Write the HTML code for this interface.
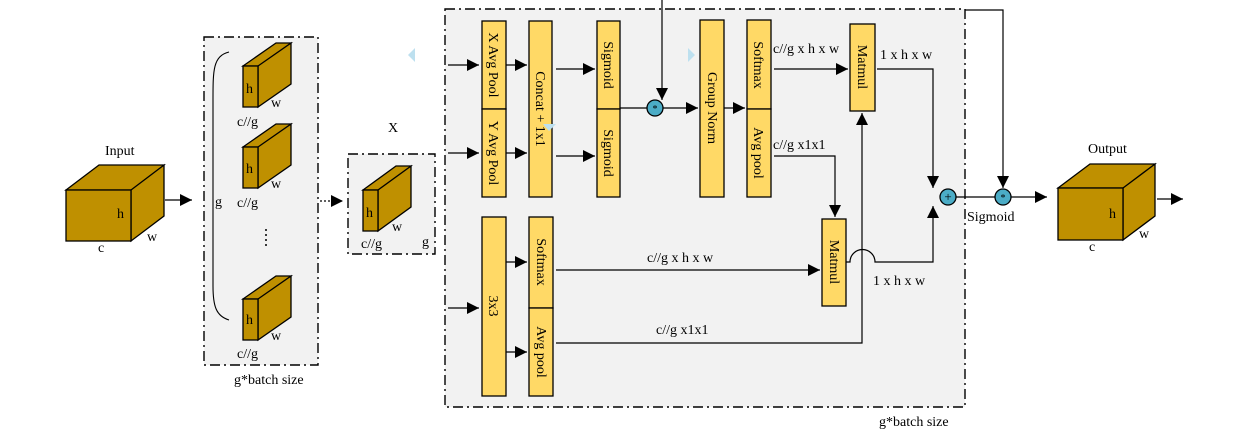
<!DOCTYPE html>
<html><head><meta charset="utf-8"><style>
html,body{margin:0;padding:0;background:#fff;}
svg{display:block;font-family:"Liberation Serif",serif;}
</style></head><body>
<svg width="1235" height="435" viewBox="0 0 1235 435" xmlns="http://www.w3.org/2000/svg">
<defs>
<marker id="b" viewBox="0 0 10 10" refX="10" refY="5" markerWidth="12" markerHeight="12" markerUnits="userSpaceOnUse" orient="auto"><path d="M0,0L10,5L0,10z" fill="#000"/></marker>
</defs>
<g stroke="#000" stroke-width="1.2" fill="none">
<rect x="445" y="9" width="520" height="398" fill="#f2f2f2" stroke-dasharray="10,4,2,4" stroke-width="1.4"/>
<rect x="204" y="37" width="114" height="328" fill="#f2f2f2" stroke-dasharray="10,4,2,4" stroke-width="1.4"/>
<rect x="348" y="154" width="87" height="100" fill="#f2f2f2" stroke-dasharray="10,4,2,4" stroke-width="1.4"/>
</g>
<g stroke="#000" stroke-width="1.3" fill="#bf9000">
<path d="M66,190L99,165L164,165L131,190z M131,190L164,165L164,216L131,241z"/><rect x="66" y="190" width="65" height="51"/>
<path d="M1058,188L1090,164L1155,164L1123,188z M1123,188L1155,164L1155,216L1123,240z"/><rect x="1058" y="188" width="65" height="52"/>
<path d="M243,66L276,43L291,43L258,66z M258,66L291,43L291,84L258,107z"/><rect x="243" y="66" width="15" height="41"/>
<path d="M243,147L276,124L291,124L258,147z M258,147L291,124L291,165L258,188z"/><rect x="243" y="147" width="15" height="41"/>
<path d="M243,299L276,276L291,276L258,299z M258,299L291,276L291,317L258,340z"/><rect x="243" y="299" width="15" height="41"/>
<path d="M363,190L396,166L411,166L378,190z M378,190L411,166L411,207L378,231z"/><rect x="363" y="190" width="15" height="41"/>
</g>
<g font-size="14" fill="#000">
<text x="105" y="155">Input</text>
<text x="117" y="218">h</text><text x="147" y="241">w</text><text x="98" y="252">c</text>
<text x="1088" y="153">Output</text>
<text x="1109" y="218">h</text><text x="1139" y="238">w</text><text x="1089" y="251">c</text>
<text x="246" y="93">h</text><text x="271" y="107">w</text><text x="237" y="126">c//g</text>
<text x="246" y="173">h</text><text x="271" y="188">w</text><text x="237" y="207">c//g</text>
<text x="246" y="324">h</text><text x="271" y="340">w</text><text x="237" y="358">c//g</text>
<text x="366" y="217">h</text><text x="392" y="231">w</text><text x="361" y="248">c//g</text><text x="422" y="246">g</text>
<text x="388" y="132">X</text>
<text x="215" y="206">g</text>
<text x="234" y="384">g*batch size</text>
<text x="879" y="426">g*batch size</text>
</g>
<g fill="#000"><circle cx="266" cy="230" r="1"/><circle cx="266" cy="235" r="1"/><circle cx="266" cy="240" r="1"/><circle cx="266" cy="245" r="1"/></g>
<path d="M229,52 C213,56 213,70 213,100 L213,286 C213,306 216,316 229,320" stroke="#000" fill="none" stroke-width="1.1"/>
<g stroke="#000" stroke-width="1.3" fill="none">
<line x1="165" y1="200" x2="192" y2="200" marker-end="url(#b)"/>
<line x1="320" y1="201" x2="343" y2="201" stroke-dasharray="2,2" marker-end="url(#b)"/>
</g>
<g stroke="#000" stroke-width="1.3" fill="#ffd966">
<rect x="482" y="21" width="24" height="88"/><rect x="482" y="109" width="24" height="88"/>
<rect x="529" y="21" width="23" height="176"/>
<rect x="597" y="21" width="23" height="88"/><rect x="597" y="109" width="23" height="88"/>
<rect x="700" y="20" width="24" height="177"/>
<rect x="747" y="20" width="24" height="89"/><rect x="747" y="109" width="24" height="88"/>
<rect x="850" y="24" width="25" height="87"/>
<rect x="482" y="217" width="24" height="179"/>
<rect x="529" y="217" width="24" height="91"/><rect x="529" y="308" width="24" height="88"/>
<rect x="822" y="219" width="24" height="87"/>
</g>
<g font-size="14" fill="#000">
<text transform="translate(489,65) rotate(90)" text-anchor="middle">X Avg Pool</text>
<text transform="translate(489,153) rotate(90)" text-anchor="middle">Y Avg Pool</text>
<text transform="translate(536,109) rotate(90)" text-anchor="middle">Concat + 1x1</text>
<text transform="translate(604,65) rotate(90)" text-anchor="middle">Sigmoid</text>
<text transform="translate(604,153) rotate(90)" text-anchor="middle">Sigmoid</text>
<text transform="translate(708,108) rotate(90)" text-anchor="middle">Group Norm</text>
<text transform="translate(754,65) rotate(90)" text-anchor="middle">Softmax</text>
<text transform="translate(754,153) rotate(90)" text-anchor="middle">Avg pool</text>
<text transform="translate(858,67) rotate(90)" text-anchor="middle">Matmul</text>
<text transform="translate(489,306) rotate(90)" text-anchor="middle">3x3</text>
<text transform="translate(537,262) rotate(90)" text-anchor="middle">Softmax</text>
<text transform="translate(537,352) rotate(90)" text-anchor="middle">Avg pool</text>
<text transform="translate(830,262) rotate(90)" text-anchor="middle">Matmul</text>
<text x="773" y="53">c//g x h x w</text>
<text x="773" y="149">c//g x1x1</text>
<text x="880" y="59">1 x h x w</text>
<text x="647" y="262">c//g x h x w</text>
<text x="656" y="334">c//g x1x1</text>
<text x="873" y="285">1 x h x w</text>
<text x="967" y="221">Sigmoid</text>
</g>
<g stroke="#000" stroke-width="1.2" fill="none">
<line x1="448" y1="65" x2="479" y2="65" marker-end="url(#b)"/>
<line x1="448" y1="153" x2="479" y2="153" marker-end="url(#b)"/>
<line x1="506" y1="65" x2="527" y2="65" marker-end="url(#b)"/>
<line x1="506" y1="153" x2="527" y2="153" marker-end="url(#b)"/>
<line x1="556" y1="69" x2="595" y2="69" marker-end="url(#b)"/>
<line x1="556" y1="156" x2="595" y2="156" marker-end="url(#b)"/>
<line x1="620" y1="108" x2="647" y2="108"/>
<line x1="662" y1="0" x2="662" y2="100" marker-end="url(#b)"/>
<line x1="663" y1="108" x2="698" y2="108" marker-end="url(#b)"/>
<line x1="724" y1="108" x2="745" y2="108" marker-end="url(#b)"/>
<line x1="774" y1="69" x2="848" y2="69" marker-end="url(#b)"/>
<polyline points="877,69 933,69 933,188" marker-end="url(#b)"/>
<polyline points="774,156 835,156 835,217" marker-end="url(#b)"/>
<line x1="448" y1="308" x2="479" y2="308" marker-end="url(#b)"/>
<line x1="506" y1="262" x2="527" y2="262" marker-end="url(#b)"/>
<line x1="506" y1="352" x2="527" y2="352" marker-end="url(#b)"/>
<line x1="556" y1="270" x2="820" y2="270" marker-end="url(#b)"/>
<polyline points="556,343 862,343 862,113" marker-end="url(#b)"/>
<path d="M846,262 L850,262 A12,12 0 0 1 875,262 L933,262 L933,206" marker-end="url(#b)"/>
<polyline points="965,10 1003,10 1003,188" marker-end="url(#b)"/>
<line x1="956" y1="197" x2="995" y2="197"/>
<line x1="1011" y1="197" x2="1047" y2="197" marker-end="url(#b)"/>
<line x1="1157" y1="199" x2="1183" y2="199" marker-end="url(#b)"/>
</g>
<g stroke="#000" stroke-width="1.3" fill="#4bacc6">
<circle cx="655" cy="108" r="8"/><circle cx="948" cy="197" r="8"/><circle cx="1003" cy="197" r="8"/>
</g>
<g font-size="10" fill="#000" text-anchor="middle">
<text x="655" y="112">*</text><text x="1003" y="201">*</text><text x="948" y="201" font-size="13">+</text>
</g>
<g fill="#bde0ef">
<path d="M415,48L408,55L415,62z"/><path d="M688,48L695,55L688,62z"/><path d="M543,124L556,124L549,131z"/>
</g>
</svg>
</body></html>
